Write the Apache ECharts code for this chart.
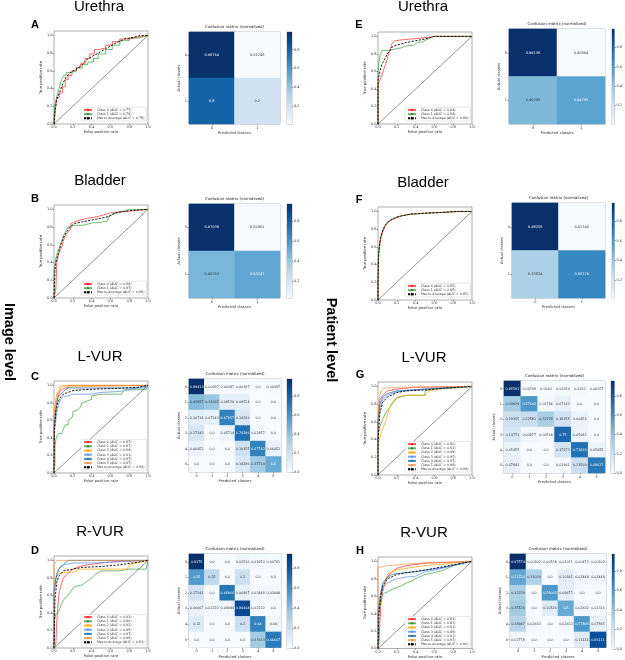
<!DOCTYPE html>
<html><head><meta charset="utf-8">
<script src="https://cdn.jsdelivr.net/npm/echarts@6/dist/echarts.min.js"></script>
<style>html,body{margin:0;padding:0;background:#fff}#c{width:625px;height:660px}</style>
</head><body><div id="c"></div><script>
// ---------------- DATA ----------------
const classes2 = ['0','1'];
const classes6 = ['0','1','2','3','4','5'];
const rocTicks = [0,0.2,0.4,0.6,0.8,1.0];
const cbTickCandidates = [0,0.2,0.4,0.6,0.8,1.0];
const chanceLine = [[0,0],[1,1]];

// Panel A: Urethra, image level
const aucA = [0.77,0.79], aucAmacro = 0.78;
const rocA0 = [[0,0],[0.01,0],[0.01,0.1],[0.02,0.1],[0.02,0.2],[0.03,0.2],[0.03,0.3],[0.06,0.3],[0.06,0.35],[0.09,0.35],[0.09,0.42],[0.12,0.42],[0.12,0.5],[0.15,0.5],[0.15,0.55],[0.19,0.55],[0.19,0.6],[0.24,0.6],[0.24,0.64],[0.28,0.64],[0.28,0.68],[0.33,0.68],[0.33,0.74],[0.38,0.74],[0.38,0.79],[0.43,0.79],[0.43,0.84],[0.48,0.84],[0.48,0.86],[0.55,0.86],[0.55,0.89],[0.62,0.89],[0.62,0.93],[0.7,0.93],[0.7,0.96],[0.8,0.96],[0.8,0.98],[0.88,0.98],[0.88,1],[1,1]];
const rocA1 = [[0,0],[0,0.1],[0.01,0.1],[0.01,0.22],[0.02,0.22],[0.02,0.27],[0.04,0.27],[0.04,0.35],[0.06,0.35],[0.06,0.42],[0.08,0.42],[0.08,0.5],[0.1,0.5],[0.1,0.55],[0.13,0.55],[0.13,0.58],[0.18,0.58],[0.18,0.6],[0.24,0.6],[0.24,0.63],[0.3,0.63],[0.3,0.67],[0.36,0.67],[0.36,0.7],[0.42,0.7],[0.42,0.74],[0.47,0.74],[0.47,0.79],[0.55,0.79],[0.55,0.84],[0.62,0.84],[0.62,0.89],[0.7,0.89],[0.7,0.94],[0.8,0.94],[0.8,0.97],[0.9,0.97],[0.9,0.99],[1,1]];
const rocAm = [[0,0],[0.01,0.15],[0.03,0.28],[0.06,0.36],[0.1,0.47],[0.13,0.53],[0.17,0.58],[0.22,0.61],[0.28,0.65],[0.34,0.72],[0.4,0.76],[0.47,0.8],[0.55,0.85],[0.65,0.91],[0.75,0.96],[0.85,0.98],[0.92,1.0],[1,1]];
const cmA = [[0.98754,0.01246],[0.8,0.2]];

// Panel E: Urethra, patient level
const aucE = [0.94,0.94], aucEmacro = 0.94;
const rocE0 = [[0,0],[0,0.45],[0.02,0.45],[0.02,0.5],[0.04,0.5],[0.04,0.55],[0.06,0.55],[0.06,0.62],[0.08,0.62],[0.08,0.68],[0.1,0.68],[0.1,0.75],[0.12,0.75],[0.12,0.82],[0.14,0.82],[0.15,0.92],[0.18,0.95],[0.25,0.96],[0.35,0.97],[0.45,0.98],[0.55,0.99],[0.6,1],[1,1]];
const rocE1 = [[0,0],[0,0.6],[0.01,0.6],[0.01,0.7],[0.02,0.7],[0.02,0.78],[0.04,0.78],[0.04,0.84],[0.12,0.84],[0.12,0.85],[0.2,0.86],[0.25,0.87],[0.3,0.89],[0.38,0.9],[0.42,0.93],[0.48,0.94],[0.5,0.96],[0.55,0.98],[0.6,1],[1,1]];
const rocEm = [[0,0],[0,0.5],[0.02,0.6],[0.04,0.68],[0.06,0.72],[0.08,0.76],[0.1,0.8],[0.13,0.84],[0.15,0.88],[0.2,0.9],[0.3,0.93],[0.4,0.95],[0.5,0.97],[0.6,1],[1,1]];
const cmE = [[0.99136,0.00864],[0.45205,0.54795]];

// Panel B: Bladder, image level
const aucB = [0.88,0.87], aucBmacro = 0.88;
const rocB0 = [[0,0],[0.02,0],[0.02,0.1],[0.03,0.1],[0.03,0.4],[0.05,0.4],[0.05,0.5],[0.07,0.55],[0.09,0.6],[0.1,0.65],[0.12,0.7],[0.14,0.72],[0.15,0.75],[0.18,0.78],[0.18,0.84],[0.22,0.86],[0.28,0.88],[0.35,0.9],[0.42,0.91],[0.5,0.93],[0.6,0.96],[0.7,0.97],[0.8,0.98],[1,1]];
const rocB1 = [[0,0],[0,0.3],[0.01,0.38],[0.02,0.45],[0.04,0.52],[0.06,0.58],[0.08,0.64],[0.1,0.7],[0.12,0.75],[0.15,0.8],[0.2,0.82],[0.3,0.82],[0.32,0.84],[0.42,0.85],[0.48,0.85],[0.5,0.87],[0.57,0.87],[0.58,0.92],[0.62,0.94],[0.68,0.97],[0.75,0.98],[0.8,1],[1,1]];
const rocBm = [[0,0],[0.01,0.3],[0.02,0.4],[0.04,0.48],[0.06,0.56],[0.08,0.62],[0.1,0.68],[0.12,0.72],[0.15,0.77],[0.18,0.81],[0.22,0.84],[0.3,0.86],[0.4,0.88],[0.5,0.9],[0.58,0.92],[0.65,0.96],[0.75,0.98],[0.85,0.99],[1,1]];
const cmB = [[0.97039,0.02961],[0.46753,0.53247]];

// Panel F: Bladder, patient level
const aucF = [0.95,0.95], aucFmacro = 0.95;
const rocF0 = [[0,0],[0,0.2],[0.005,0.45],[0.01,0.55],[0.02,0.63],[0.03,0.7],[0.05,0.77],[0.07,0.82],[0.1,0.87],[0.14,0.9],[0.2,0.93],[0.25,0.95],[0.35,0.97],[0.5,0.98],[0.7,0.99],[0.85,1],[1,1]];
const rocF1 = [[0,0],[0,0.25],[0.005,0.5],[0.01,0.58],[0.02,0.66],[0.03,0.72],[0.05,0.79],[0.07,0.84],[0.1,0.88],[0.14,0.91],[0.2,0.94],[0.25,0.95],[0.35,0.97],[0.5,0.98],[0.7,0.99],[0.85,1],[1,1]];
const rocFm = [[0,0],[0,0.22],[0.005,0.47],[0.01,0.56],[0.02,0.64],[0.03,0.71],[0.05,0.78],[0.07,0.83],[0.1,0.875],[0.14,0.905],[0.2,0.935],[0.25,0.95],[0.35,0.97],[0.5,0.98],[0.7,0.99],[0.85,1],[1,1]];
const cmF = [[0.98255,0.01745],[0.33824,0.66176]];

// Panel C: L-VUR, image level
const aucC = [0.97,0.87,0.98,0.91,0.97,0.97], aucCmacro = 0.94;
const rocC0 = [[0,0],[0,0.5],[0.01,0.6],[0.02,0.72],[0.03,0.8],[0.04,0.86],[0.06,0.92],[0.08,0.95],[0.12,0.97],[0.15,0.97],[0.15,1],[1,1]];
const rocC1 = [[0,0],[0.01,0.1],[0.01,0.3],[0.02,0.38],[0.03,0.42],[0.05,0.45],[0.08,0.45],[0.1,0.5],[0.12,0.55],[0.15,0.55],[0.15,0.6],[0.18,0.62],[0.2,0.65],[0.2,0.7],[0.25,0.72],[0.28,0.75],[0.3,0.8],[0.35,0.82],[0.4,0.84],[0.4,0.88],[0.5,0.9],[0.72,0.9],[0.75,0.95],[0.98,0.95],[1,1]];
const rocC2 = [[0,0],[0,0.7],[0.01,0.78],[0.02,0.85],[0.03,0.9],[0.05,0.95],[0.07,1],[1,1]];
const rocC3 = [[0,0],[0,0.45],[0.02,0.6],[0.03,0.7],[0.05,0.78],[0.07,0.84],[0.1,0.87],[0.15,0.88],[0.2,0.9],[0.4,0.9],[0.5,0.92],[0.7,0.93],[0.8,0.95],[1,1]];
const rocC4 = [[0,0],[0,0.55],[0.02,0.75],[0.04,0.86],[0.07,0.9],[0.1,0.93],[0.15,0.97],[0.75,0.97],[0.97,0.97],[0.97,1],[1,1]];
const rocC5 = [[0,0],[0,0.65],[0.02,0.8],[0.04,0.9],[0.06,0.95],[0.08,0.98],[0.1,1],[1,1]];
const rocCm = [[0,0],[0.005,0.5],[0.02,0.7],[0.04,0.8],[0.06,0.85],[0.1,0.9],[0.15,0.92],[0.2,0.94],[0.3,0.95],[0.5,0.96],[0.75,0.97],[0.9,0.98],[1,1]];
const cmC = [
  [0.98413,0.00397,0.00397,0.00397,0.0,0.00397],
  [0.42857,0.38095,0.09524,0.09524,0.0,0.0],
  [0.10714,0.07143,0.67857,0.14286,0.0,0.0],
  [0.17143,0.0,0.05714,0.74286,0.02857,0.0],
  [0.06452,0.0,0.0,0.19355,0.67742,0.06452],
  [0.0,0.0,0.0,0.14286,0.35714,0.5]];

// Panel G: L-VUR, patient level
const aucG = [0.96,0.91,0.89,0.95,0.97,0.98], aucGmacro = 0.94;
const rocG0 = [[0,0],[0,0.6],[0.01,0.75],[0.02,0.85],[0.05,0.9],[0.1,0.95],[0.2,0.97],[0.4,0.99],[1,1]];
const rocG1 = [[0,0],[0,0.45],[0.02,0.55],[0.04,0.6],[0.06,0.65],[0.08,0.7],[0.1,0.73],[0.15,0.8],[0.2,0.87],[0.3,0.9],[0.5,0.9],[0.5,0.95],[0.6,0.97],[0.8,0.98],[1,1]];
const rocG2 = [[0,0],[0,0.35],[0.02,0.42],[0.04,0.5],[0.06,0.52],[0.08,0.6],[0.1,0.68],[0.12,0.75],[0.15,0.82],[0.2,0.88],[0.3,0.9],[0.5,0.9],[0.55,0.95],[0.7,0.98],[1,1]];
const rocG3 = [[0,0],[0,0.55],[0.02,0.75],[0.05,0.85],[0.1,0.9],[0.2,0.94],[0.4,0.96],[0.6,0.98],[1,1]];
const rocG4 = [[0,0],[0,0.6],[0.02,0.8],[0.05,0.88],[0.1,0.92],[0.2,0.95],[0.5,0.97],[1,1]];
const rocG5 = [[0,0],[0,0.7],[0.01,0.85],[0.03,0.95],[0.06,0.98],[0.2,0.99],[1,1]];
const rocGm = [[0,0],[0,0.4],[0.02,0.7],[0.05,0.82],[0.1,0.88],[0.2,0.93],[0.3,0.95],[0.5,0.96],[0.7,0.98],[1,1]];
const cmG = [
  [0.95591,0.00709,0.0063,0.01654,0.0126,0.00157],
  [0.33929,0.57143,0.01786,0.07143,0.0,0.0],
  [0.19355,0.22581,0.32258,0.19355,0.06452,0.0],
  [0.14773,0.03977,0.00568,0.75,0.05682,0.0],
  [0.05455,0.0,0.0,0.17273,0.71818,0.05455],
  [0.07843,0.0,0.0,0.01961,0.21569,0.68627]];

// Panel D: R-VUR, image level
const aucD = [0.93,0.80,0.92,0.95,0.97,0.99], aucDmacro = 0.93;
const rocD0 = [[0,0],[0.02,0.05],[0.03,0.3],[0.04,0.45],[0.05,0.6],[0.07,0.7],[0.1,0.8],[0.15,0.85],[0.2,0.9],[0.3,0.94],[0.5,0.97],[0.7,0.99],[1,1]];
const rocD1 = [[0,0],[0,0.3],[0.02,0.38],[0.05,0.42],[0.08,0.5],[0.1,0.55],[0.15,0.6],[0.18,0.65],[0.2,0.65],[0.22,0.7],[0.3,0.72],[0.35,0.76],[0.4,0.8],[0.45,0.85],[0.5,0.88],[0.7,0.88],[0.78,0.9],[0.98,0.9],[1,1]];
const rocD2 = [[0,0],[0,0.7],[0.02,0.8],[0.05,0.85],[0.1,0.86],[0.23,0.87],[0.25,0.9],[0.5,0.9],[0.78,0.9],[0.8,0.95],[1,1]];
const rocD3 = [[0,0],[0,0.6],[0.03,0.85],[0.06,0.92],[0.1,0.95],[0.2,0.97],[0.4,0.97],[0.6,0.98],[1,1]];
const rocD4 = [[0,0],[0,0.65],[0.02,0.8],[0.05,0.9],[0.1,0.95],[0.15,1],[1,1]];
const rocD5 = [[0,0],[0,0.95],[0.03,1],[1,1]];
const rocDm = [[0,0],[0.01,0.55],[0.03,0.75],[0.05,0.82],[0.1,0.88],[0.2,0.9],[0.3,0.92],[0.5,0.93],[0.7,0.95],[0.9,0.98],[1,1]];
const cmD = [
  [0.9375,0.0,0.0,0.03516,0.01953,0.00781],
  [0.55,0.25,0.0,0.2,0.0,0.0],
  [0.17241,0.0,0.68966,0.06897,0.03448,0.03448],
  [0.06667,0.02222,0.04444,0.84444,0.02222,0.0],
  [0.12,0.0,0.0,0.2,0.64,0.04],
  [0.0,0.0,0.0,0.0,0.33333,0.66667]];

// Panel H: R-VUR, patient level
const aucH = [0.93,0.82,0.91,0.88,0.91,0.97], aucHmacro = 0.90;
const rocH0 = [[0,0],[0.01,0.05],[0.02,0.3],[0.03,0.5],[0.05,0.65],[0.08,0.78],[0.12,0.85],[0.2,0.92],[0.3,0.95],[0.5,0.98],[1,1]];
const rocH1 = [[0,0],[0,0.3],[0.02,0.5],[0.04,0.6],[0.06,0.63],[0.1,0.65],[0.15,0.68],[0.2,0.7],[0.25,0.72],[0.3,0.75],[0.35,0.77],[0.4,0.8],[0.5,0.85],[0.6,0.87],[0.7,0.9],[0.8,0.95],[0.9,0.98],[1,1]];
const rocH2 = [[0,0],[0,0.4],[0.03,0.55],[0.05,0.7],[0.08,0.75],[0.1,0.85],[0.15,0.88],[0.2,0.9],[0.3,0.92],[0.5,0.95],[0.7,0.97],[1,1]];
const rocH3 = [[0,0],[0,0.45],[0.03,0.6],[0.05,0.7],[0.1,0.75],[0.15,0.78],[0.2,0.8],[0.3,0.82],[0.4,0.83],[0.5,0.88],[0.6,0.9],[0.8,0.95],[1,1]];
const rocH4 = [[0,0],[0,0.4],[0.02,0.6],[0.05,0.75],[0.1,0.82],[0.15,0.85],[0.2,0.86],[0.3,0.87],[0.4,0.88],[0.5,0.9],[0.7,0.93],[0.9,0.98],[1,1]];
const rocH5 = [[0,0],[0,0.93],[0.02,0.95],[0.1,0.95],[0.3,0.97],[0.5,0.98],[1,1]];
const rocHm = [[0,0],[0.01,0.4],[0.03,0.6],[0.05,0.72],[0.1,0.8],[0.2,0.85],[0.3,0.87],[0.5,0.9],[0.7,0.94],[0.9,0.98],[1,1]];
const cmH = [
  [0.97574,0.00202,0.00539,0.01011,0.00472,0.00202],
  [0.51724,0.31034,0.0,0.10345,0.03448,0.03448],
  [0.32258,0.0,0.58065,0.09677,0.0,0.0],
  [0.35526,0.0,0.10526,0.5,0.02632,0.01316],
  [0.28947,0.02632,0.0,0.02632,0.57895,0.07895],
  [0.02778,0.0,0.0,0.0,0.11111,0.86111]];

// ---------------- STYLE / LAYOUT ----------------
const FONT = 'DejaVu Sans';
const BLUES = ['#f7fbff','#deebf7','#c6dbef','#9ecae1','#6baed6','#4292c6','#2171b5','#08519c','#08306b'];
const CLASS_COLORS = ['rgba(255,0,0,0.65)','rgba(0,128,0,0.6)','rgba(255,165,0,0.8)','rgba(100,149,237,0.85)','rgba(31,119,180,0.85)','rgba(244,140,60,0.75)'];
const W = 625, H = 660;

const panels = [
  {letter:'A', title:'Urethra', tx:99, ty:7,  lx:35, ly:25, roc:{l:54,t:31,w:94,h:93},  cm:{l:189,t:32,w:91,h:92},  cb:{l:287,t:32,w:5,h:92},
   curves:[rocA0,rocA1], macro:rocAm, auc:aucA, macroAuc:aucAmacro, mat:cmA, labels:classes2},
  {letter:'E', title:'Urethra', tx:423, ty:7, lx:359, ly:25, roc:{l:378,t:32,w:94,h:92}, cm:{l:509,t:29,w:96,h:95}, cb:{l:612,t:29,w:4.5,h:95},
   curves:[rocE0,rocE1], macro:rocEm, auc:aucE, macroAuc:aucEmacro, mat:cmE, labels:classes2},
  {letter:'B', title:'Bladder', tx:100, ty:181, lx:35, ly:199, roc:{l:54,t:205,w:94,h:93}, cm:{l:189,t:204,w:91,h:94}, cb:{l:287,t:204,w:5,h:94},
   curves:[rocB0,rocB1], macro:rocBm, auc:aucB, macroAuc:aucBmacro, mat:cmB, labels:classes2},
  {letter:'F', title:'Bladder', tx:423, ty:183, lx:359, ly:200, roc:{l:378,t:207,w:94,h:93}, cm:{l:512,t:203,w:93,h:95}, cb:{l:612,t:203,w:4.5,h:95},
   curves:[rocF0,rocF1], macro:rocFm, auc:aucF, macroAuc:aucFmacro, mat:cmF, labels:classes2},
  {letter:'C', title:'L-VUR', tx:100, ty:357, lx:35, ly:377, roc:{l:54,t:381,w:94,h:92}, cm:{l:189,t:379,w:92,h:93}, cb:{l:287,t:379,w:5,h:93},
   curves:[rocC0,rocC1,rocC2,rocC3,rocC4,rocC5], macro:rocCm, auc:aucC, macroAuc:aucCmacro, mat:cmC, labels:classes6},
  {letter:'G', title:'L-VUR', tx:424, ty:358, lx:360, ly:375, roc:{l:378,t:382,w:94,h:93}, cm:{l:504,t:381,w:101,h:92}, cb:{l:611,t:381,w:5,h:92},
   curves:[rocG0,rocG1,rocG2,rocG3,rocG4,rocG5], macro:rocGm, auc:aucG, macroAuc:aucGmacro, mat:cmG, labels:classes6},
  {letter:'D', title:'R-VUR', tx:100, ty:532, lx:35, ly:551, roc:{l:54,t:556,w:94,h:92}, cm:{l:189,t:554,w:92,h:94}, cb:{l:287,t:554,w:5,h:94},
   curves:[rocD0,rocD1,rocD2,rocD3,rocD4,rocD5], macro:rocDm, auc:aucD, macroAuc:aucDmacro, mat:cmD, labels:classes6},
  {letter:'H', title:'R-VUR', tx:424, ty:533, lx:360, ly:551, roc:{l:378,t:557,w:94,h:93}, cm:{l:510,t:554,w:96,h:95}, cb:{l:612,t:554,w:5,h:95},
   curves:[rocH0,rocH1,rocH2,rocH3,rocH4,rocH5], macro:rocHm, auc:aucH, macroAuc:aucHmacro, mat:cmH, labels:classes6}
];

const grid=[], xAxis=[], yAxis=[], series=[], legend=[], visualMap=[], graphic=[];
const tickStyle = {show:true, length:1.5, lineStyle:{color:'#444', width:0.5}};
const lblStyle = {fontSize:3.5, color:'#333', fontFamily:FONT};
const nameStyle = {fontSize:3.8, color:'#333', fontFamily:FONT};

function fmtVal(v){ return Number.isInteger(v) ? v.toFixed(1) : String(v); }

function addRoc(p){
  const L = p.roc, gi = grid.length;
  grid.push({left:L.l, top:L.t, width:L.w, height:L.h, show:true, borderColor:'#777', borderWidth:0.6, backgroundColor:'#fff'});
  xAxis.push({gridIndex:gi, type:'value', min:0, max:1, axisLine:{show:false}, splitLine:{show:false},
    axisTick:Object.assign({customValues:rocTicks}, tickStyle),
    axisLabel:Object.assign({margin:1.5, customValues:rocTicks, formatter:v=>v.toFixed(1)}, lblStyle),
    name:'False positive rate', nameLocation:'middle', nameGap:6.5, nameTextStyle:nameStyle});
  yAxis.push({gridIndex:gi, type:'value', min:0, max:1.05, axisLine:{show:false}, splitLine:{show:false},
    axisTick:Object.assign({customValues:rocTicks}, tickStyle),
    axisLabel:Object.assign({margin:1.5, customValues:rocTicks, formatter:v=>v.toFixed(1)}, lblStyle),
    name:'True positive rate', nameLocation:'middle', nameGap:8.5, nameTextStyle:nameStyle});
  series.push({type:'line', name:'_chance', xAxisIndex:gi, yAxisIndex:gi, data:chanceLine, symbol:'none', silent:true,
    lineStyle:{color:'#222', width:0.5}, z:1});
  const names = [];
  p.curves.forEach((d,i)=>{
    const n = `Class ${i} (AUC = ${p.auc[i].toFixed(2)})`;
    names.push(n);
    series.push({type:'line', name:n, xAxisIndex:gi, yAxisIndex:gi, data:d, symbol:'none', showSymbol:false,
      color:CLASS_COLORS[i], lineStyle:{color:CLASS_COLORS[i], width:0.9}, z:2});
  });
  const mn = `Macro-average (AUC = ${p.macroAuc.toFixed(2)})`;
  names.push(mn);
  series.push({type:'line', name:mn, xAxisIndex:gi, yAxisIndex:gi, data:p.macro, symbol:'none', showSymbol:false,
    color:'#000', lineStyle:{color:'#000', width:0.9, type:[2.2,1.4]}, z:3});
  legend.push({orient:'vertical', right:W-(L.l+L.w)+1.5, bottom:H-(L.t+L.h)+3, data:names, selectedMode:false,
    itemWidth:8, itemHeight:3, itemGap:1.2, padding:[1.2,2,1.2,2], borderColor:'#ccc', borderWidth:0.5, borderRadius:1,
    backgroundColor:'rgba(255,255,255,0.85)', textStyle:{fontSize:3.3, color:'#333', fontFamily:FONT}});
}

function addCm(p){
  const L = p.cm, C = p.cb, mat = p.mat, n = mat.length;
  const vals = mat.flat();
  const vmin = Math.min(...vals), vmax = Math.max(...vals), thresh = (vmin+vmax)/2;
  const gi = grid.length;
  grid.push({left:L.l, top:L.t, width:L.w, height:L.h, show:true, borderColor:'#777', borderWidth:0.6});
  xAxis.push({gridIndex:gi, type:'category', data:p.labels, axisLine:{show:false}, splitLine:{show:false},
    axisTick:Object.assign({alignWithLabel:true}, tickStyle), axisLabel:Object.assign({margin:2}, lblStyle),
    name:'Predicted classes', nameLocation:'middle', nameGap:7.5, nameTextStyle:nameStyle});
  yAxis.push({gridIndex:gi, type:'category', data:p.labels, inverse:true, axisLine:{show:false}, splitLine:{show:false},
    axisTick:Object.assign({alignWithLabel:true}, tickStyle), axisLabel:Object.assign({margin:2}, lblStyle),
    name:'Actual classes', nameLocation:'middle', nameGap:7.5, nameTextStyle:nameStyle});
  const data = [];
  mat.forEach((row,r)=>row.forEach((v,c)=>data.push({value:[c,r,v], label:{color: v>thresh ? '#fff' : '#333'}})));
  const si = series.length;
  series.push({type:'heatmap', xAxisIndex:gi, yAxisIndex:gi, data:data,
    label:{show:true, fontSize: n>2 ? 3.3 : 3.5, fontFamily:FONT, formatter:q=>fmtVal(q.value[2])}});
  visualMap.push({type:'continuous', show:false, seriesIndex:si, dimension:2, min:vmin, max:vmax, inRange:{color:BLUES}});
  // title
  graphic.push({type:'text', x:L.l+L.w/2, y:L.t-3, style:{text:'Confusion matrix (normalized)', fontSize:3.9, fontFamily:FONT, fill:'#222', align:'center', verticalAlign:'bottom'}});
  // colorbar
  const cg = grid.length;
  const ticks = cbTickCandidates.filter(t=>t>=vmin-1e-9 && t<=vmax+1e-9);
  grid.push({left:C.l, top:C.t, width:C.w, height:C.h, show:true, borderColor:'#777', borderWidth:0.5});
  xAxis.push({gridIndex:cg, type:'category', data:[''], show:false});
  yAxis.push({gridIndex:cg, type:'value', min:vmin, max:vmax, position:'right', splitLine:{show:false}, axisLine:{show:false},
    axisTick:Object.assign({customValues:ticks}, tickStyle),
    axisLabel:Object.assign({margin:2, customValues:ticks, formatter:v=>v.toFixed(1)}, lblStyle)});
  series.push({type:'bar', xAxisIndex:cg, yAxisIndex:cg, stack:'cb'+cg, data:[vmin], barWidth:'100%', silent:true,
    itemStyle:{color:'rgba(0,0,0,0)'}});
  series.push({type:'bar', xAxisIndex:cg, yAxisIndex:cg, stack:'cb'+cg, data:[vmax-vmin], barWidth:'100%', silent:true,
    itemStyle:{color:{type:'linear', x:0, y:0, x2:0, y2:1,
      colorStops:BLUES.slice().reverse().map((c,i)=>({offset:i/(BLUES.length-1), color:c}))}}});
}

panels.forEach(p=>{
  addRoc(p);
  addCm(p);
  graphic.push({type:'text', x:p.tx, y:p.ty, style:{text:p.title, fontSize:15, fontFamily:'Liberation Sans', fill:'#000', align:'center', verticalAlign:'middle'}});
  graphic.push({type:'text', x:p.lx, y:p.ly, style:{text:p.letter, fontSize:11, fontWeight:'bold', fontFamily:'Liberation Sans', fill:'#000', align:'center', verticalAlign:'middle'}});
});
graphic.push({type:'text', x:9, y:342, rotation:-Math.PI/2, style:{text:'Image level', fontSize:14.5, fontWeight:'bold', fontFamily:'Liberation Sans', fill:'#000', align:'center', verticalAlign:'middle'}});
graphic.push({type:'text', x:331, y:340, rotation:-Math.PI/2, style:{text:'Patient level', fontSize:14.5, fontWeight:'bold', fontFamily:'Liberation Sans', fill:'#000', align:'center', verticalAlign:'middle'}});

const chart = echarts.init(document.getElementById('c'), null, {renderer:'canvas'});
chart.setOption({animation:false, backgroundColor:'#fff', grid, xAxis, yAxis, series, legend, visualMap, graphic});
</script></body></html>
